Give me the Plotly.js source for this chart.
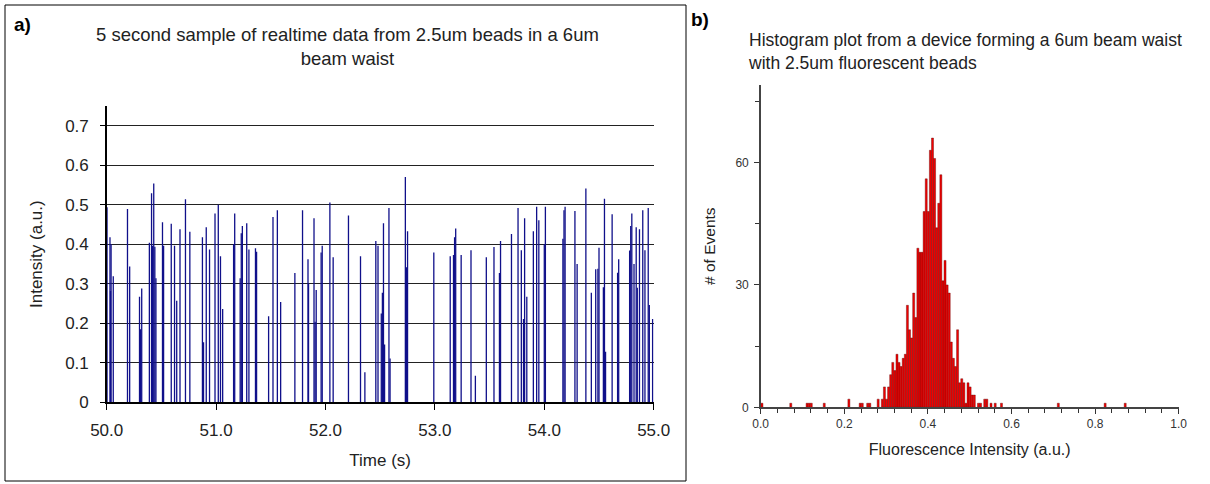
<!DOCTYPE html>
<html>
<head>
<meta charset="utf-8">
<script src="https://cdn.plot.ly/plotly-3.0.1.min.js"></script>
<style>html,body{margin:0;padding:0;background:#fff}#chart{width:1210px;height:484px}</style>
</head>
<body>
<div id="chart"></div>
<script>
// ---- Panel a: realtime spikes (time in s, peak intensity in a.u.) ----
const spikeTimes = [50.003,50.03,50.035,50.04,50.06,50.19,50.21,50.30,50.31,50.32,50.39,50.41,50.42,50.43,50.44,50.45,50.51,50.52,50.59,50.62,50.64,50.67,50.72,50.76,50.875,50.885,50.91,50.94,50.99,51.02,51.04,51.06,51.16,51.17,51.22,51.23,51.24,51.28,51.30,51.36,51.37,51.48,51.52,51.56,51.59,51.72,51.79,51.84,51.845,51.895,51.905,51.915,51.96,51.97,52.04,52.07,52.21,52.32,52.36,52.46,52.48,52.51,52.52,52.53,52.54,52.58,52.59,52.73,52.74,52.75,52.99,53.14,53.17,53.18,53.19,53.24,53.33,53.37,53.47,53.54,53.59,53.60,53.70,53.76,53.79,53.81,53.82,53.84,53.90,53.93,53.95,54.00,54.01,54.17,54.18,54.19,54.28,54.30,54.38,54.43,54.47,54.49,54.50,54.54,54.55,54.56,54.62,54.67,54.68,54.78,54.79,54.80,54.82,54.84,54.85,54.87,54.90,54.92,54.95,54.96,54.99];
const spikeIntensity = [0.494,0.418,0.282,0.40,0.319,0.489,0.344,0.267,0.185,0.288,0.404,0.529,0.396,0.554,0.394,0.314,0.456,0.396,0.452,0.396,0.257,0.438,0.514,0.432,0.418,0.152,0.443,0.387,0.478,0.50,0.37,0.236,0.40,0.478,0.314,0.428,0.446,0.453,0.387,0.39,0.381,0.218,0.469,0.486,0.254,0.327,0.486,0.362,0.30,0.466,0.204,0.284,0.379,0.396,0.506,0.367,0.473,0.37,0.076,0.408,0.396,0.225,0.277,0.453,0.146,0.492,0.111,0.57,0.342,0.433,0.379,0.37,0.373,0.418,0.44,0.373,0.385,0.067,0.367,0.393,0.327,0.408,0.426,0.492,0.385,0.211,0.466,0.267,0.433,0.495,0.461,0.40,0.495,0.414,0.486,0.495,0.484,0.35,0.541,0.277,0.337,0.338,0.391,0.291,0.515,0.128,0.476,0.328,0.362,0.384,0.446,0.478,0.35,0.443,0.29,0.438,0.486,0.385,0.492,0.246,0.211];

// ---- Panel b: histogram bins (fluorescence intensity, a.u.) and counts ----
const binCenters = [0.003,0.072,0.111,0.116,0.121,0.152,0.211,0.238,0.243,0.256,0.261,0.281,0.291,0.296,0.301,0.306,0.311,0.316,0.321,0.326,0.331,0.336,0.341,0.346,0.351,0.356,0.361,0.366,0.371,0.376,0.381,0.386,0.391,0.396,0.401,0.406,0.411,0.416,0.421,0.426,0.431,0.436,0.441,0.446,0.451,0.456,0.461,0.466,0.471,0.476,0.481,0.486,0.491,0.496,0.501,0.506,0.511,0.521,0.526,0.536,0.541,0.551,0.561,0.576,0.712,0.824,0.872];
const binCounts = [1,1,1,1,1,1,2,1,1,1,1,2,2,5,2,5,8,11,9,13,11,10,12,13,25,19,17,28,22,39,38,38,48,56,48,63,66,61,44,50,57,31,36,30,28,16,12,10,19,6,7,6,1,6,5,3,3,1,1,2,2,1,1,1,1,1,1];

const xTickLabelsA = ['50.0','51.0','52.0','53.0','54.0','55.0'];
const xTickLabelsB = ['0.0','0.2','0.4','0.6','0.8','1.0'];
const yTickLabelsB = ['0','30','60'];

// build spike polyline (each spike rises from 0 to its peak)
const sx = [], sy = [];
spikeTimes.forEach((t, i) => { sx.push(t, t, null); sy.push(0, spikeIntensity[i], null); });

const W = 1210, H = 484;
const px = v => v / W, py = v => 1 - v / H;

const traces = [
  {type:'scatter', mode:'lines', x:sx, y:sy, xaxis:'x', yaxis:'y',
   line:{color:'#10108a', width:1.3}, hoverinfo:'skip', connectgaps:false},
  {type:'bar', x:binCenters, y:binCounts, xaxis:'x2', yaxis:'y2', width:0.0048,
   marker:{color:'#f20000', line:{color:'#5a0000', width:0.4}}}
];

const layout = {
  width:W, height:H, margin:{l:0,r:0,t:0,b:0},
  paper_bgcolor:'#ffffff', plot_bgcolor:'rgba(0,0,0,0)', showlegend:false,
  font:{family:'Arial, Liberation Sans, sans-serif', color:'#222'},
  xaxis:{domain:[px(106.7), px(653.7)], range:[50,55], tickmode:'array',
    tickvals:[50,51,52,53,54,55], ticktext:xTickLabelsA, ticks:'outside', ticklen:6,
    tickcolor:'#000', showline:true, linecolor:'#000', linewidth:1.5, showgrid:false,
    zeroline:false, tickfont:{size:17, color:'#222'}, ticklabelstandoff:6,
    title:{text:'Time (s)', font:{size:17, color:'#222'}, standoff:15}},
  yaxis:{domain:[1-402.3/H, 1-106/H], range:[0,0.75], dtick:0.1, tick0:0,
    ticks:'outside', ticklen:5, tickcolor:'#000', showline:true, linecolor:'#000',
    linewidth:1.5, showgrid:true, gridcolor:'#222', gridwidth:1.3, zeroline:false,
    tickfont:{size:17, color:'#222'}, ticklabelstandoff:8,
    title:{text:'Intensity (a.u.)', font:{size:17, color:'#222'}, standoff:18}},
  xaxis2:{domain:[px(760.7), px(1178.7)], range:[0,1], anchor:'y2', tickmode:'array',
    tickvals:[0,0.2,0.4,0.6,0.8,1.0], ticktext:xTickLabelsB, ticks:'outside', ticklen:5,
    tickcolor:'#333', minor:{dtick:0.04, tick0:0, ticks:'outside', ticklen:4, tickcolor:'#333', showgrid:false},
    showline:true, linecolor:'#444', linewidth:1.5, showgrid:false, zeroline:false,
    tickfont:{size:12, color:'#333'},
    title:{text:'Fluorescence Intensity (a.u.)', font:{size:16, color:'#222'}, standoff:13}},
  yaxis2:{domain:[1-407.3/H, 1-85/H], range:[0,79], anchor:'x2', tickmode:'array',
    tickvals:[0,30,60], ticktext:yTickLabelsB, ticks:'outside', ticklen:5, tickcolor:'#333',
    minor:{dtick:15, tick0:0, ticks:'outside', ticklen:4, tickcolor:'#333', showgrid:false},
    showline:true, linecolor:'#444', linewidth:1.5, showgrid:false, zeroline:false,
    tickfont:{size:12, color:'#333'}, ticklabelstandoff:3,
    title:{text:'# of Events', font:{size:15.5, color:'#222'}, standoff:16}},
  bargap:0,
  shapes:[{type:'rect', xref:'paper', yref:'paper', x0:px(5), x1:px(686), y0:py(481), y1:py(5),
    line:{color:'#000', width:1}}],
  annotations:[
    {text:'<b>a)</b>', xref:'paper', yref:'paper', x:px(12), y:py(24), xanchor:'left', yanchor:'middle',
     showarrow:false, font:{size:19, color:'#000'}},
    {text:'5 second sample of realtime data from 2.5um beads in a 6um<br>beam waist', xref:'paper', yref:'paper',
     x:px(347), y:py(46), xanchor:'center', yanchor:'middle', align:'center', showarrow:false,
     font:{size:18.5, color:'#222'}},
    {text:'<b>b)</b>', xref:'paper', yref:'paper', x:px(689), y:py(20), xanchor:'left', yanchor:'middle',
     showarrow:false, font:{size:19, color:'#000'}},
    {text:'Histogram plot from a device forming a 6um beam waist<br>with 2.5um fluorescent beads', xref:'paper', yref:'paper',
     x:px(746), y:py(52), xanchor:'left', yanchor:'middle', align:'left', showarrow:false,
     font:{size:17.5, color:'#222'}}
  ]
};

Plotly.newPlot('chart', traces, layout, {staticPlot:true, displayModeBar:false});
</script>
</body>
</html>
